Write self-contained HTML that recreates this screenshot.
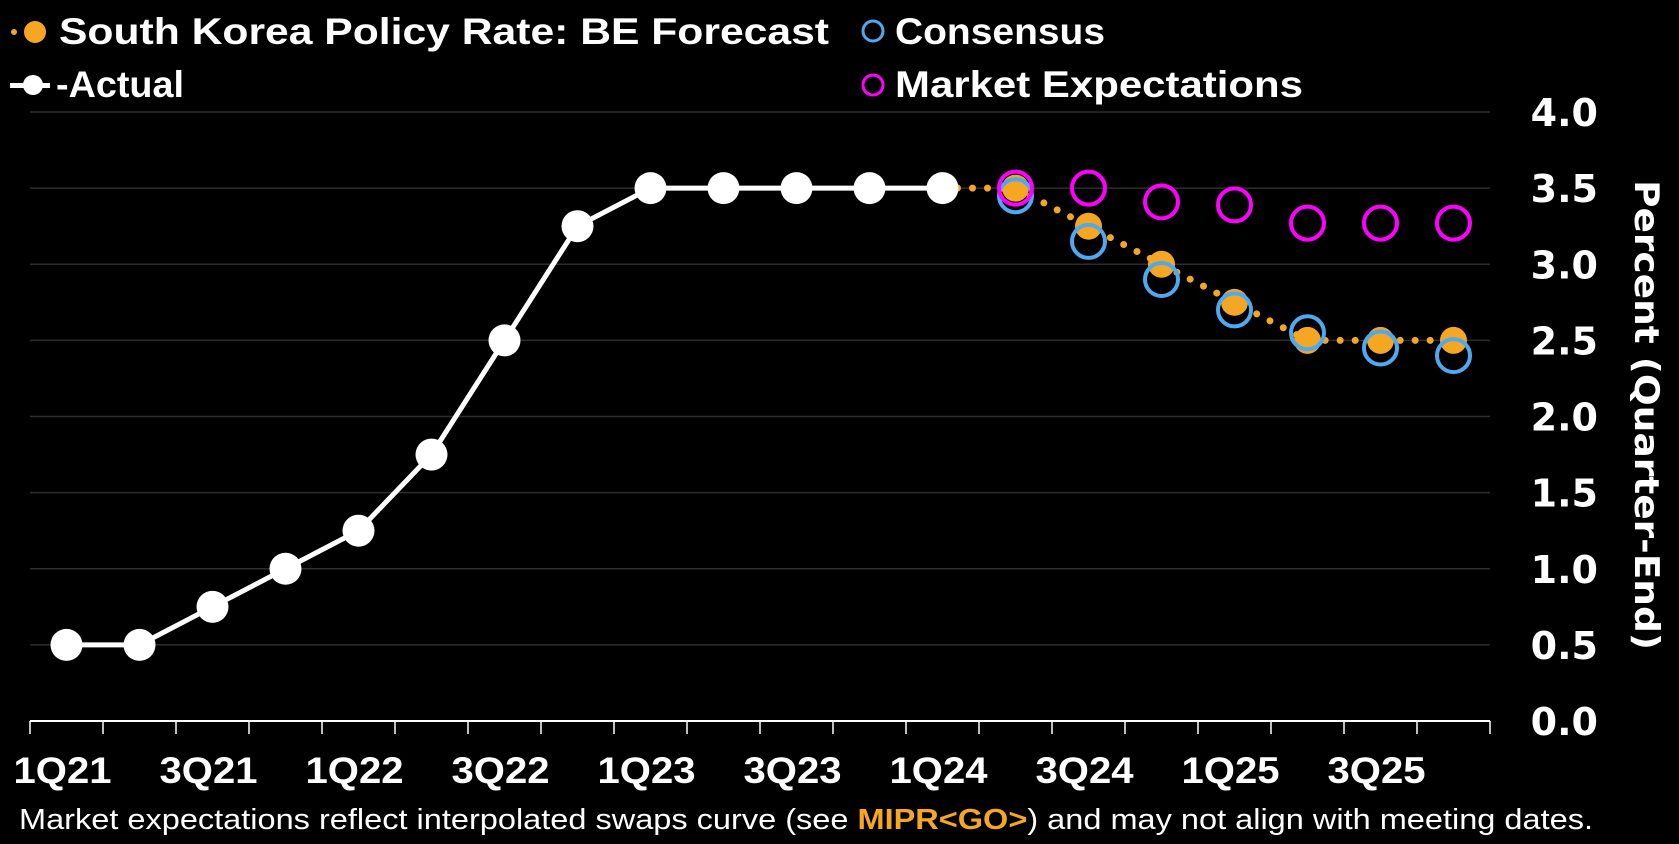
<!DOCTYPE html>
<html><head><meta charset="utf-8"><style>
html,body{margin:0;padding:0;background:#000;width:1679px;height:844px;overflow:hidden}
svg{display:block}
.t{font-family:"Liberation Sans Narrow","Liberation Sans",sans-serif;font-weight:bold;fill:#fff}
.n{font-family:"DejaVu Sans",sans-serif;font-weight:bold;fill:#fff}
</style></head><body>
<svg id="chart" width="1679" height="844" xmlns="http://www.w3.org/2000/svg">
<g id="grid"></g>
<g id="axes"></g>
<g id="series"></g>
<g>
  <g>
    <circle cx="14" cy="32" r="3" fill="#f5a623"/><circle cx="35" cy="32" r="11" fill="#f5a623"/>
    <text class="t" x="59" y="44" font-size="37" textLength="770" lengthAdjust="spacingAndGlyphs">South Korea Policy Rate: BE Forecast</text>
  </g>
  <g>
    <rect x="10" y="83" width="40" height="5" fill="#fff"/><circle cx="33" cy="85" r="10" fill="#fff"/>
    <text class="t" x="56" y="97" font-size="37" textLength="128" lengthAdjust="spacingAndGlyphs">-Actual</text>
  </g>
  <g>
    <circle cx="873" cy="31" r="10" fill="none" stroke="#4ea9f0" stroke-width="3"/>
    <text class="t" x="895" y="44" font-size="37" textLength="210" lengthAdjust="spacingAndGlyphs">Consensus</text>
  </g>
  <g>
    <circle cx="873" cy="85" r="10" fill="none" stroke="#ff00ff" stroke-width="3"/>
    <text class="t" x="895" y="97" font-size="37" textLength="408" lengthAdjust="spacingAndGlyphs">Market Expectations</text>
  </g>
</g>
<text class="n" transform="translate(1635,180) rotate(90)" font-size="34" textLength="470" lengthAdjust="spacingAndGlyphs">Percent (Quarter-End)</text>
<text x="19" y="829" font-family="'Liberation Sans Narrow','Liberation Sans',sans-serif" font-size="29" fill="#fff" textLength="1574" lengthAdjust="spacingAndGlyphs">Market expectations reflect interpolated swaps curve (see <tspan fill="#f5a623" font-weight="bold">MIPR&lt;GO&gt;</tspan>) and may not align with meeting dates.</text>
</svg>
<script>
const quarters=["1Q21","2Q21","3Q21","4Q21","1Q22","2Q22","3Q22","4Q22","1Q23","2Q23","3Q23","4Q23","1Q24","2Q24","3Q24","4Q24","1Q25","2Q25","3Q25","4Q25"];
const xTickLabels=["1Q21","3Q21","1Q22","3Q22","1Q23","3Q23","1Q24","3Q24","1Q25","3Q25"];
const yTicks=[0,0.5,1,1.5,2,2.5,3,3.5,4];
const actualQ=["1Q21","2Q21","3Q21","4Q21","1Q22","2Q22","3Q22","4Q22","1Q23","2Q23","3Q23","4Q23","1Q24"];
const actualVals=[0.5,0.5,0.75,1.0,1.25,1.75,2.5,3.25,3.5,3.5,3.5,3.5,3.5];
const fcQ=["1Q24","2Q24","3Q24","4Q24","1Q25","2Q25","3Q25","4Q25"];
const forecastVals=[3.5,3.5,3.25,3.0,2.75,2.5,2.5,2.5];
const otherQ=["2Q24","3Q24","4Q24","1Q25","2Q25","3Q25","4Q25"];
const consensusVals=[3.45,3.15,2.9,2.7,2.55,2.45,2.4];
const marketVals=[3.5,3.5,3.41,3.39,3.27,3.27,3.27];

const NS="http://www.w3.org/2000/svg";
const X0=30,X1=1490,Y0=721,Y4=112;
const qw=(X1-X0)/quarters.length;
const xq=q=>X0+qw*(quarters.indexOf(q)+0.5);
const xe=q=>X0+qw*quarters.indexOf(q);
const y=v=>Y0-(Y0-Y4)*v/4;
function mk(tag,at,parent){const e=document.createElementNS(NS,tag);for(const k in at)e.setAttribute(k,at[k]);parent.appendChild(e);return e;}
const grid=document.getElementById('grid'),axes=document.getElementById('axes'),ser=document.getElementById('series');

yTicks.forEach(v=>{
  if(v>0){const l=mk('line',{x1:X0,x2:X1,y1:y(v),y2:y(v),stroke:'#2e2e2e','stroke-width':1.5},grid);
  
  }
  const t=mk('text',{x:1598,y:y(v)+14,'text-anchor':'end','font-size':38,class:'n'},axes);
  t.textContent=v.toFixed(1);
  
  
});
const ax=mk('line',{x1:X0,x2:X1,y1:Y0,y2:Y0,stroke:'#fff','stroke-width':2},axes);


quarters.forEach(q=>{
  const t=mk('line',{x1:xe(q),x2:xe(q),y1:Y0,y2:Y0+13,stroke:'#fff','stroke-width':1.5},axes);
  
  
});
mk('line',{x1:X1,x2:X1,y1:Y0,y2:Y0+13,stroke:'#fff','stroke-width':1.5},axes);
xTickLabels.forEach(q=>{
  const t=mk('text',{x:xq(q)-4,y:783,'text-anchor':'middle','font-size':37,class:'t',textLength:98,lengthAdjust:'spacingAndGlyphs'},axes);
  t.textContent=q;
  
  
});

const fl=mk('polyline',{points:fcQ.map((q,i)=>xq(q)+','+y(forecastVals[i])).join(' '),fill:'none',stroke:'#f5a623','stroke-width':7,'stroke-dasharray':'0 15','stroke-linecap':'round'},ser);


const al=mk('polyline',{points:actualQ.map((q,i)=>xq(q)+','+y(actualVals[i])).join(' '),fill:'none',stroke:'#fff','stroke-width':5},ser);


actualQ.forEach((q,i)=>{
  const c=mk('circle',{cx:xq(q),cy:y(actualVals[i]),r:16,fill:'#fff'},ser);
  
  
});
fcQ.forEach((q,i)=>{ if(i===0) return;
  const c=mk('circle',{cx:xq(q),cy:y(forecastVals[i]),r:13.5,fill:'#f5a623'},ser);
  
  
});
otherQ.forEach((q,i)=>{
  const c=mk('circle',{cx:xq(q),cy:y(consensusVals[i]),r:16.5,fill:'none',stroke:'#4ea9f0','stroke-width':4},ser);
  
  
});
otherQ.forEach((q,i)=>{
  const c=mk('circle',{cx:xq(q),cy:y(marketVals[i]),r:16.5,fill:'none',stroke:'#ff00ff','stroke-width':4},ser);
  
  
});
</script>
</body></html>
